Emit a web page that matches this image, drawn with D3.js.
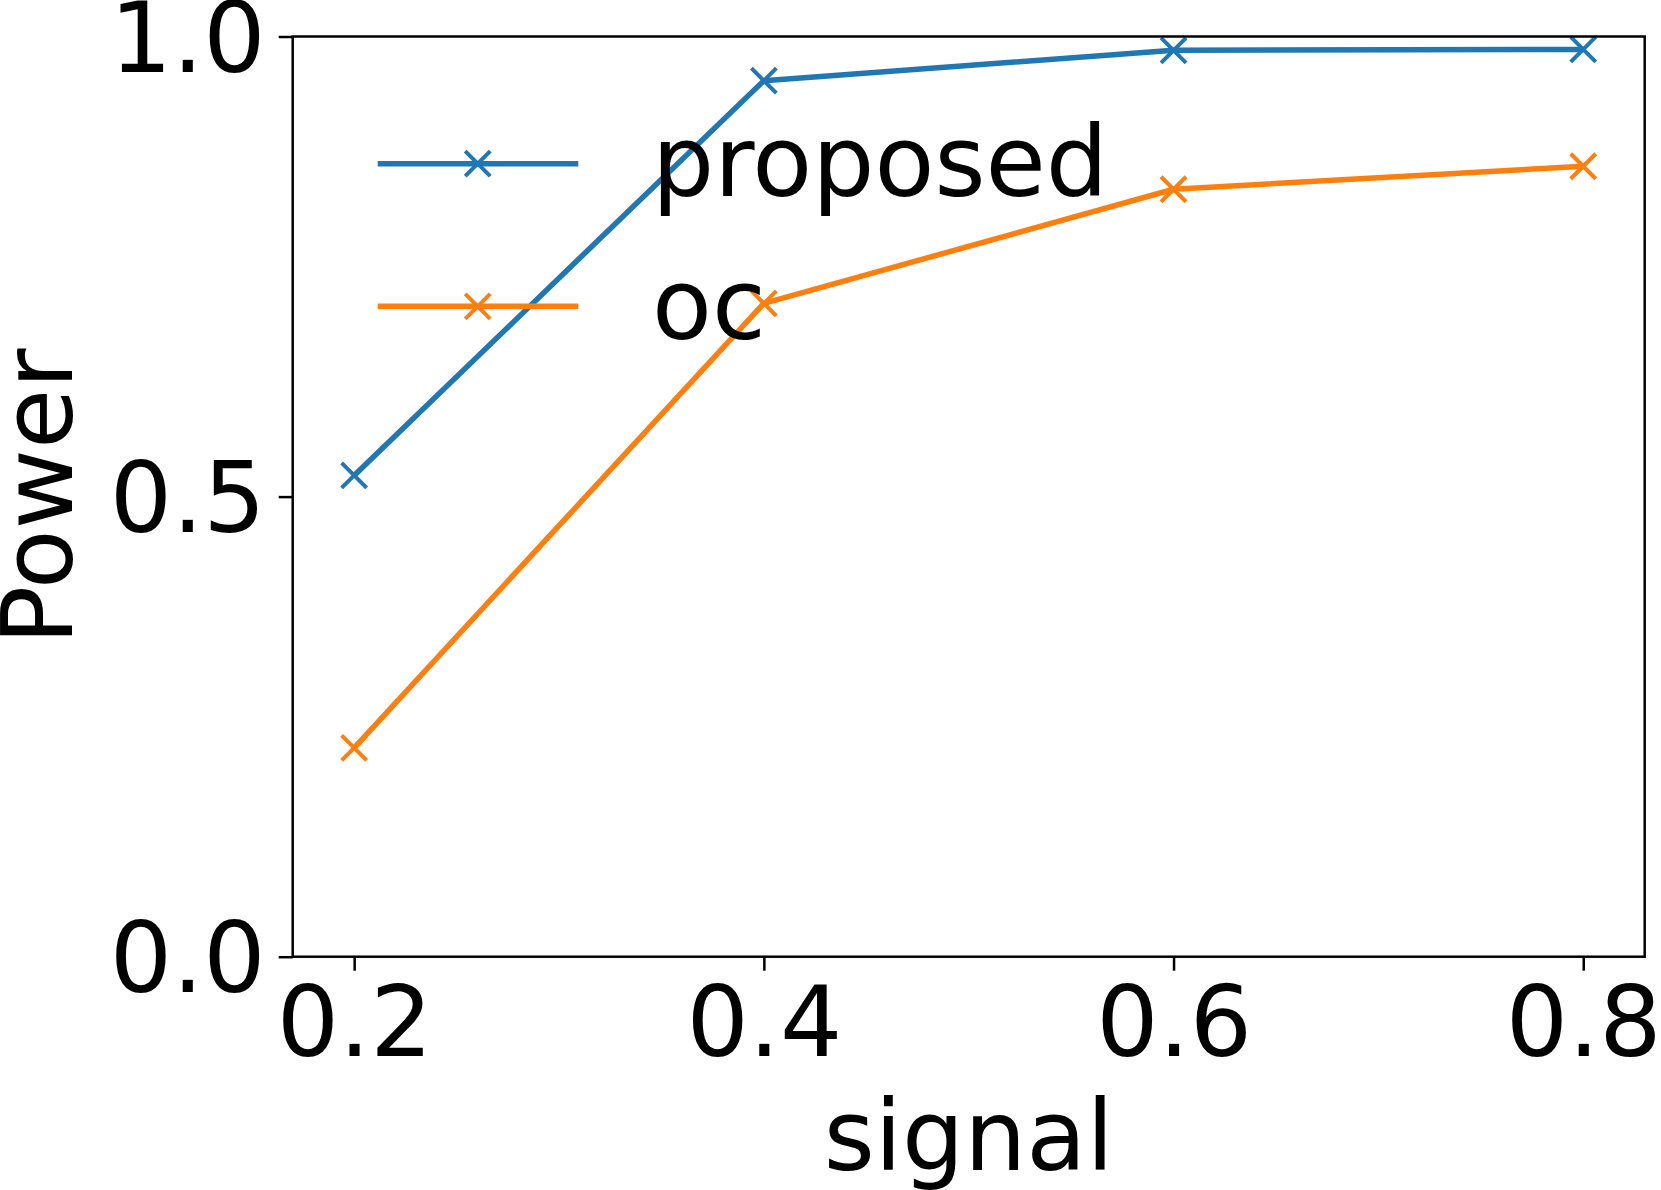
<!DOCTYPE html>
<html>
<head>
<meta charset="utf-8">
<script src="https://cdn.jsdelivr.net/npm/d3@7"></script>
<style>
  html, body { margin: 0; padding: 0; background: #fff; }
  svg { display: block; }
  text { font-family: "DejaVu Sans", sans-serif; fill: #000; }
</style>
</head>
<body>
<script>
const signals = [0.2, 0.4, 0.6, 0.8];
const proposed = [0.523, 0.952, 0.985, 0.986];
const oc = [0.227, 0.710, 0.834, 0.859];
const xTicks = [0.2, 0.4, 0.6, 0.8];
const yTicks = [0.0, 0.5, 1.0];
const seriesNames = ["proposed", "oc"];
const seriesColors = ["#1f77b4", "#ff7f0e"];

const W = 1661, H = 1190;
const mLeft = 292.7, mRight = 1644.7, mTop = 36.5, mBottom = 956.7;
const fontSize = 98;

const svg = d3.select("body").append("svg").attr("width", W).attr("height", H);

const x = d3.scaleLinear().domain([0.17, 0.83]).range([mLeft, mRight]);
const y = d3.scaleLinear().domain([0, 1]).range([mBottom, mTop]);

// x axis
const xAxis = d3.axisBottom(x).tickValues(xTicks).tickFormat(d3.format(".1f")).tickSize(14).tickPadding(16);
const gx = svg.append("g").attr("transform", `translate(0,${mBottom})`).call(xAxis);
gx.select(".domain").remove();
gx.selectAll(".tick line").attr("stroke", "#000").attr("stroke-width", 2.5);
gx.selectAll(".tick text").attr("font-size", fontSize).attr("font-family", "DejaVu Sans").attr("fill", "#000").attr("dy", "0.71em");

// y axis
const yAxis = d3.axisLeft(y).tickValues(yTicks).tickFormat(d3.format(".1f")).tickSize(14).tickPadding(13);
const gy = svg.append("g").attr("transform", `translate(${mLeft},0)`).call(yAxis);
gy.select(".domain").remove();
gy.selectAll(".tick line").attr("stroke", "#000").attr("stroke-width", 2.5);
gy.selectAll(".tick text").attr("font-size", fontSize).attr("font-family", "DejaVu Sans").attr("fill", "#000").attr("dy", "0.36em");

// series
const series = [proposed, oc];
const line = d3.line().x((d, i) => x(signals[i])).y(d => y(d));
const ms = 12.5;
function xMarker(g, cx, cy, color) {
  g.append("path")
    .attr("d", `M${cx - ms},${cy - ms}L${cx + ms},${cy + ms}M${cx - ms},${cy + ms}L${cx + ms},${cy - ms}`)
    .attr("stroke", color).attr("stroke-width", 4).attr("fill", "none");
}
const plot = svg.append("g");
series.forEach((vals, si) => {
  plot.append("path").datum(vals).attr("d", line)
    .attr("fill", "none").attr("stroke", seriesColors[si]).attr("stroke-width", 5.5)
    .attr("stroke-linejoin", "round");
  vals.forEach((v, i) => xMarker(plot, x(signals[i]), y(v), seriesColors[si]));
});

// frame
svg.append("rect").attr("x", mLeft).attr("y", mTop).attr("width", mRight - mLeft).attr("height", mBottom - mTop)
  .attr("fill", "none").attr("stroke", "#000").attr("stroke-width", 2.5);

// legend
const legY = [163.7, 306.3];
const leg = svg.append("g");
seriesNames.forEach((name, i) => {
  leg.append("line").attr("x1", 377.7).attr("x2", 578.3).attr("y1", legY[i]).attr("y2", legY[i])
    .attr("stroke", seriesColors[i]).attr("stroke-width", 5.5);
  xMarker(leg, 477.7, legY[i], seriesColors[i]);
  leg.append("text").attr("x", 652).attr("y", legY[i]).attr("dy", "0.33em")
    .attr("font-size", fontSize).text(name);
});

// axis labels
svg.append("text").attr("x", (mLeft + mRight) / 2).attr("y", 1170).attr("text-anchor", "middle")
  .attr("font-size", fontSize).text("signal");
svg.append("text").attr("transform", `translate(72,${(mTop + mBottom) / 2}) rotate(-90)`)
  .attr("text-anchor", "middle").attr("font-size", fontSize).text("Power");
</script>
</body>
</html>
